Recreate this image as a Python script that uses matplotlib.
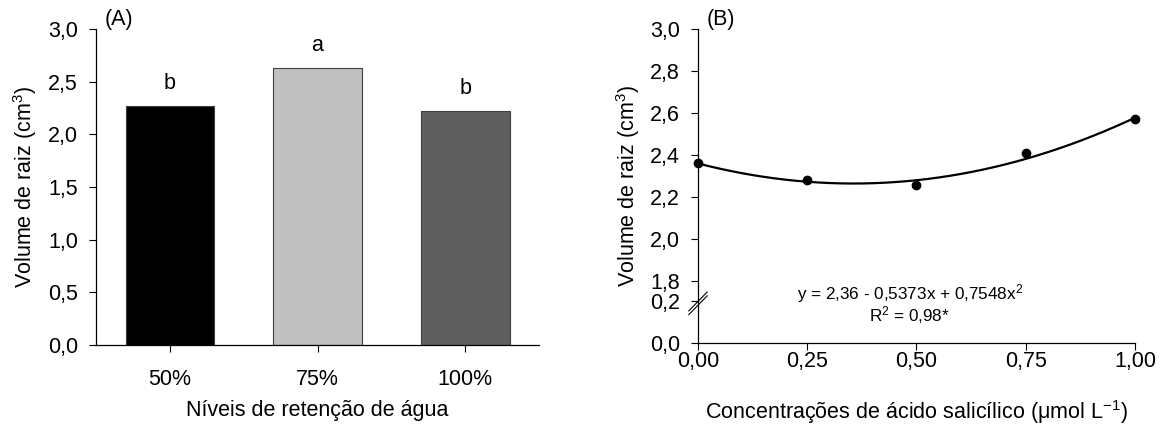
import numpy as np
import matplotlib
matplotlib.use("Agg")
import matplotlib.pyplot as plt

plt.rcParams['font.family'] = ['Liberation Sans', 'DejaVu Sans']
plt.rcParams['mathtext.default'] = 'regular'

# panel A data
niveis = ['50%', '75%', '100%']
volume_a = [2.27, 2.63, 2.225]
letras = ['b', 'a', 'b']
cores = ['#000000', '#c0c0c0', '#5f5f5f']

# panel B data
conc = [0.0, 0.25, 0.50, 0.75, 1.00]
volume_b = [2.362, 2.281, 2.256, 2.411, 2.571]
coef = [2.36, -0.5373, 0.7548]  # y = b0 + b1 x + b2 x^2

# broken y axis for B: 0-0.2 then jump to 1.8-3.0
gap = 0.095

def fwd(y):
    y = np.asarray(y, dtype=float)
    return np.where(y <= 0.2, y,
                    np.where(y < 1.8, 0.2 + (y - 0.2) * gap / 1.6, y - 1.6 + gap))

def inv(t):
    t = np.asarray(t, dtype=float)
    return np.where(t <= 0.2, t,
                    np.where(t < 0.2 + gap, 0.2 + (t - 0.2) * 1.6 / gap, t + 1.6 - gap))

fig = plt.figure(figsize=(11.65, 4.28), dpi=100)
axA = fig.add_axes([0.0824, 0.1939, 0.3803, 0.7383])
axB = fig.add_axes([0.5991, 0.1986, 0.3751, 0.7336])

fs = 15.5

# ---- A ----
x = np.arange(len(niveis))
axA.bar(x, volume_a, width=0.6, color=cores, edgecolor='#404040', linewidth=0.8)
for xi, v, l in zip(x, volume_a, letras):
    axA.text(xi, v + 0.21, l, ha='center', va='center', fontsize=fs)
axA.set_xlim(-0.5, 2.5)
axA.set_ylim(0, 3.0)
axA.set_xticks(x)
axA.set_xticklabels(niveis)
axA.set_yticks(np.arange(0, 3.01, 0.5))
axA.set_yticklabels([f'{v:.1f}'.replace('.', ',') for v in np.arange(0, 3.01, 0.5)])
axA.tick_params(axis='x', labelsize=fs, length=5, pad=12)
axA.tick_params(axis='y', labelsize=fs, length=5, pad=8)
axA.set_xlabel('Níveis de retenção de água', fontsize=fs)
axA.xaxis.set_label_coords(0.5, -0.206)
axA.xaxis.label.set_va('center')
axA.set_ylabel('Volume de raiz (cm$^3$)', fontsize=fs)
axA.yaxis.set_label_coords(-0.160, 0.5)
axA.yaxis.label.set_va('center')
axA.text(0.02, 1.03, '(A)', transform=axA.transAxes, fontsize=fs, va='center')

# ---- B ----
axB.set_yscale('function', functions=(fwd, inv))
xs = np.linspace(0, 1, 200)
axB.plot(xs, coef[0] + coef[1] * xs + coef[2] * xs ** 2, color='black', lw=1.6)
axB.plot(conc, volume_b, 'o', color='black', ms=6, clip_on=False)
axB.set_xlim(0, 1)
axB.set_ylim(0, 3.0)
yt = [0.0, 0.2, 1.8, 2.0, 2.2, 2.4, 2.6, 2.8, 3.0]
axB.set_yticks(yt)
axB.set_yticklabels([f'{v:.1f}'.replace('.', ',') for v in yt])
axB.minorticks_off()
axB.set_xticks(conc)
axB.set_xticklabels([f'{v:.2f}'.replace('.', ',') for v in conc])
axB.tick_params(axis='x', labelsize=fs, length=5, pad=1)
axB.tick_params(axis='y', labelsize=fs, length=5, pad=8)
axB.set_xlabel('Concentrações de ácido salicílico (μmol L$^{-1}$)', fontsize=fs)
axB.xaxis.set_label_coords(0.5, -0.22)
axB.xaxis.label.set_va('center')
axB.set_ylabel('Volume de raiz (cm$^3$)', fontsize=fs)
axB.yaxis.set_label_coords(-0.160, 0.5)
axB.yaxis.label.set_va('center')
axB.text(0.02, 1.03, '(B)', transform=axB.transAxes, fontsize=fs, va='center')
axB.text(0.485, 0.159, 'y = 2,36 - 0,5373x + 0,7548x$^2$', transform=axB.transAxes,
         ha='center', va='center', fontsize=12.3)
axB.text(0.485, 0.089, 'R$^2$ = 0,98*', transform=axB.transAxes,
         ha='center', va='center', fontsize=12.3)

# break marks on the y axis
yb = 1 - (304 - 29) / (343 - 29)
for dy in (-0.004, 0.008):
    axB.plot([-0.021, 0.021], [yb - 0.03 + dy, yb + 0.03 + dy], transform=axB.transAxes,
             color='black', lw=0.8, clip_on=False)

for ax in (axA, axB):
    ax.spines['top'].set_visible(False)
    ax.spines['right'].set_visible(False)
    ax.spines['left'].set_linewidth(0.9)
    ax.spines['bottom'].set_linewidth(0.9)

fig.savefig('out.png', dpi=100)
